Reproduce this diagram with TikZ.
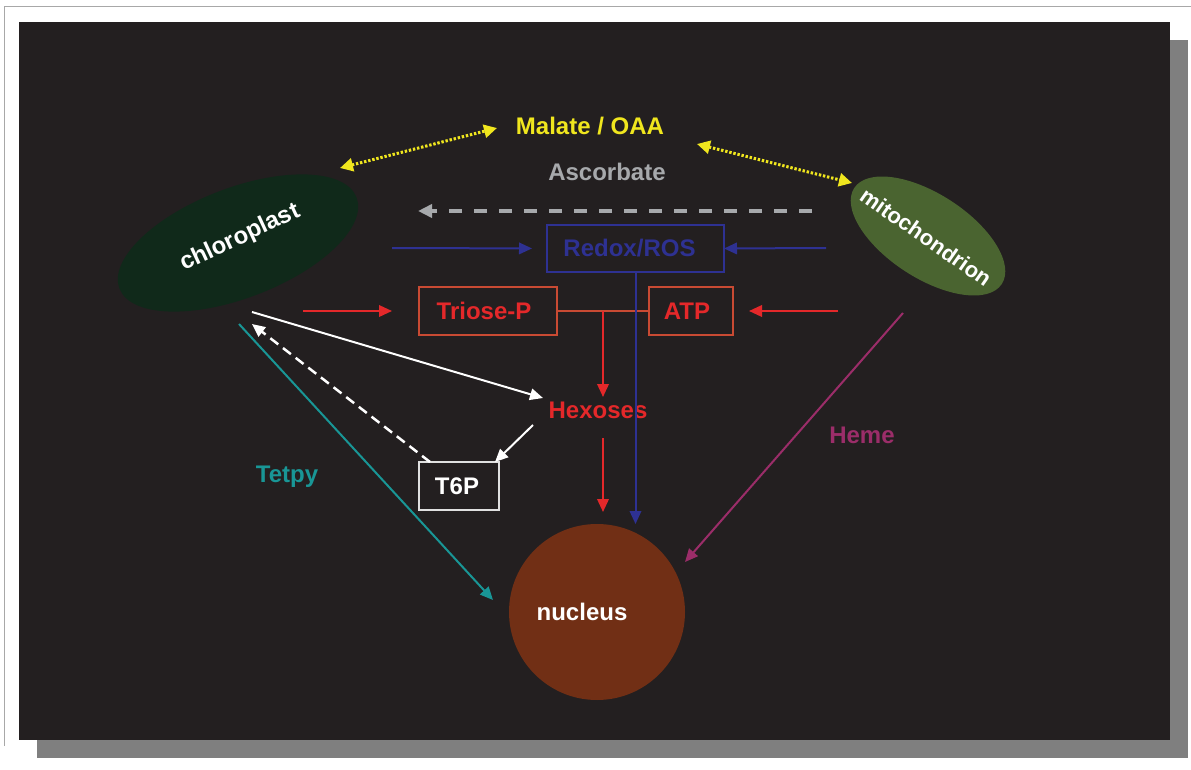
\documentclass[tikz,border=0pt]{standalone}
\usepackage{fontspec}
\setmainfont{Liberation Sans}
\usetikzlibrary{arrows.meta,shapes.geometric}
\definecolor{bgc}{HTML}{231F20}
\definecolor{shadowc}{HTML}{7F7F7F}
\definecolor{framec}{HTML}{A8A8A8}
\definecolor{chloroc}{HTML}{10291A}
\definecolor{mitoc}{HTML}{4A6430}
\definecolor{nucc}{HTML}{712F15}
\definecolor{yellowc}{HTML}{F0E61E}
\definecolor{ascc}{HTML}{A7A9AC}
\definecolor{bluec}{HTML}{2E3192}
\definecolor{redc}{HTML}{E4282A}
\definecolor{boxred}{HTML}{C94A33}
\definecolor{tealc}{HTML}{199696}
\definecolor{magc}{HTML}{9B2D69}
\definecolor{t6pc}{HTML}{E0E0E0}
\begin{document}
\begin{tikzpicture}[x=1pt,y=-1pt,
  lbl/.style={font=\fontsize{24}{28}\selectfont\bfseries, inner sep=0pt, outer sep=0pt},
  bx/.style={draw, line width=1.6pt, inner sep=0pt, rectangle, outer sep=0pt},
  arrowtip/.style={-{Triangle[length=13pt,width=11.5pt]}},
  conn/.style={line width=2pt, arrowtip},
  ydot/.style={yellowc, line width=3pt, dash pattern=on 2.4pt off 1.8pt,
    {Triangle[length=13pt,width=13pt]}-{Triangle[length=13pt,width=13pt]}},
]
\useasboundingbox (0,0) rectangle (1191,770);
\fill[shadowc] (37,40) rectangle (1188,758);
\fill[bgc] (19,22) rectangle (1170,740);
\draw[framec, line width=1pt] (4,746) -- (4,7) -- (1191,7);

% organelles
\node[ellipse, fill=chloroc, minimum width=254pt, minimum height=110pt, inner sep=0pt, rotate=21] (chloro) at (238,243) {};
\node[lbl, text=white, rotate=25] (chlorotext) at (240,238) {chloroplast};
\node[ellipse, fill=mitoc, minimum width=176pt, minimum height=84pt, inner sep=0pt, rotate=-33] (mito) at (928,236) {};
\node[lbl, text=white, rotate=-35, font=\fontsize{22}{26}\selectfont\bfseries] (mitotext) at (926,237) {mitochondrion};
\node[circle, fill=nucc, minimum size=176pt, inner sep=0pt] (nuc) at (597,612) {};
\node[lbl, text=white] (nuctext) at (582,612) {nucleus};

% labels
\node[lbl, text=yellowc] (malate) at (590,126) {Malate / OAA};
\node[lbl, text=ascc] (asc) at (607,172) {Ascorbate};
\node[bx, draw=bluec, minimum width=177pt, minimum height=47pt,
  label={[lbl, text=bluec, xshift=-6pt]center:Redox/ROS}] (redox) at (635.5,248.5) {};
\node[bx, draw=boxred, minimum width=138pt, minimum height=48pt,
  label={[lbl, text=redc, xshift=-4pt]center:Triose-P}] (triose) at (488,311) {};
\node[bx, draw=boxred, minimum width=84pt, minimum height=48pt,
  label={[lbl, text=redc, xshift=-4pt]center:ATP}] (atp) at (691,311) {};
\node[lbl, text=redc] (hex) at (598,410) {Hexoses};
\node[bx, draw=t6pc, minimum width=80pt, minimum height=48pt,
  label={[lbl, text=white, xshift=-2pt]center:T6P}] (t6p) at (459,486) {};
\node[lbl, text=tealc, anchor=base] (tetpy) at (287,482) {Tetpy};
\node[lbl, text=magc] (heme) at (862,435) {Heme};

% free ends
\coordinate (yA) at (340,168);
\coordinate (yB) at (497,128);
\coordinate (yC) at (697,144);
\coordinate (yD) at (852,183);
\coordinate (gA) at (812,211);
\coordinate (gB) at (418,211);
\coordinate (bA) at (392,248);
\coordinate (bB) at (826,248);
\coordinate (bC) at (635.5,524);
\coordinate (rA) at (303,311);
\coordinate (rB) at (838,311);
\coordinate (rJ) at (603,311);
\coordinate (rK) at (603,397);
\coordinate (rL) at (603,438);
\coordinate (rM) at (603,512);
\coordinate (wA) at (252,312);
\coordinate (wB) at (543,398);
\coordinate (wC) at (533,425);
\coordinate (wD) at (495,462);
\coordinate (wE) at (430,462);
\coordinate (wF) at (252,324);
\coordinate (tA) at (239,324);
\coordinate (tB) at (493,600);
\coordinate (mA) at (903,313);
\coordinate (mB) at (685,562);

% yellow exchanges
\draw[ydot] (yA) -- (yB);
\draw[ydot] (yC) -- (yD);
% ascorbate
\draw[ascc, line width=4pt, dash pattern=on 13pt off 12pt, -{Triangle[length=14pt,width=13pt]}] (gA) -- (gB);
% red
\draw[boxred, line width=1.6pt] (triose.east) -- (atp.west);
\draw[redc, conn, shorten >=27pt] (rA) -- (triose.west);
\draw[redc, conn, shorten >=16pt] (rB) -- (atp.east);
\draw[redc, conn] (rJ) -- (rK);
\draw[redc, conn] (rL) -- (rM);
% blue
\draw[bluec, conn, shorten >=15pt] (bA) -- (redox.west);
\draw[bluec, conn] (bB) -- (redox.east);
\draw[bluec, conn] (redox.south) -- (bC);
% white
\draw[white, conn] (wA) -- (wB);
\draw[white, conn] (wC) -- (wD);
\draw[white, line width=2.5pt, dash pattern=on 10pt off 6pt, arrowtip] (wE) -- (wF);
% teal and magenta
\draw[tealc, conn] (tA) -- (tB);
\draw[magc, conn] (mA) -- (mB);
\end{tikzpicture}
\end{document}
